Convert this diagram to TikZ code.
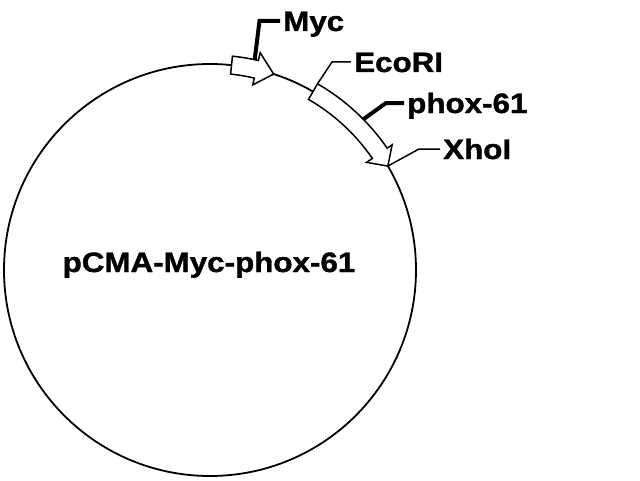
\documentclass[tikz,border=0pt]{standalone}
\usepackage{fontspec}
\setmainfont{Liberation Sans}[FakeStretch=1.12, BoldFeatures={FakeBold=1.3}]

\begin{document}
\begin{tikzpicture}[x=1pt, y=1pt,
  site/.style={font=\fontsize{28}{30}\selectfont\bfseries, inner ysep=0pt, inner xsep=3pt, text height=20pt, text depth=0pt, anchor=west},
  plasname/.style={font=\fontsize{28}{30}\selectfont\bfseries, inner sep=0pt, anchor=base},
  orf/.style={draw, fill=white, line width=1.5pt},
  thinline/.style={line width=1.5pt},
  boldline/.style={line width=4pt}]
\useasboundingbox (-210,-210) rectangle (430,270);
\draw[line width=1.8pt] (0,0) circle[radius=206];

% Myc tag
\draw[orf] (84:215) arc[start angle=84, end angle=77, radius=215] -- (77:223) -- (72:206) -- (77:190) -- (77:197) arc[start angle=77, end angle=84, radius=197] -- cycle;
% phox-61 insert
\draw[orf] (60:215) arc[start angle=60, end angle=34.5, radius=215] -- (34.5:221) -- (30.3:206) -- (34.5:190) -- (34.5:197) arc[start angle=34.5, end angle=60, radius=197] -- cycle;

\node[plasname] (name) at (-1,-2) {pCMA-Myc-phox-61};

\node[site] (myc) at (70,249) {Myc};
\node[site] (ecori) at (141,208) {EcoRI};
\node[site] (phox) at (194,167) {phox-61};
\node[site] (xhoi) at (230,121) {XhoI};

\coordinate (mycfoot) at (78:215);
\coordinate (ecorifoot) at (60:215);
\coordinate (phoxfoot) at (44.5:215);
\coordinate (xhoifoot) at (30.3:206);

\draw[boldline] (mycfoot) -- ([xshift=-20.5pt]myc.west) -- (myc.west);
\draw[thinline] (ecorifoot) -- ([xshift=-19pt]ecori.west) -- (ecori.west);
\draw[boldline] (phoxfoot) -- ([xshift=-18pt]phox.west) -- (phox.west);
\draw[thinline] (xhoifoot) -- ([xshift=-21pt]xhoi.west) -- (xhoi.west);
\end{tikzpicture}
\end{document}
